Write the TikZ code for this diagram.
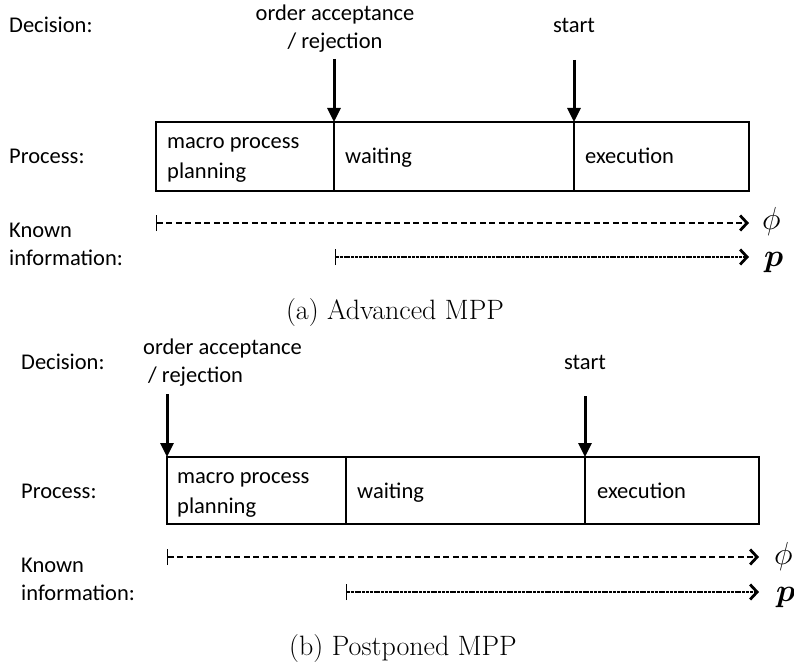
\documentclass[tikz,border=0pt]{standalone}
\usepackage{graphicx}
\usepackage{fontspec}
\usepackage{amsmath}
\newfontfamily\calib{Carlito}
\usetikzlibrary{arrows.meta}
\newcommand{\bigsym}[1]{\scalebox{1.28}{\fontsize{24.88}{30}\selectfont$#1$}}
\begin{document}
\begin{tikzpicture}[x=1pt,y=-1pt,
 lbl/.style={font=\calib\fontsize{22.5}{28}\selectfont, inner sep=0pt, anchor=base west},
 ctr/.style={font=\calib\fontsize{22.5}{28}\selectfont, inner sep=0pt, anchor=base},
 two/.style={font=\calib\fontsize{22.5}{28}\selectfont, inner sep=0pt, anchor=north},
 capt/.style={font=\rmfamily\fontsize{28}{34}\selectfont, inner sep=0pt, anchor=base},
 sym/.style={inner sep=0pt, anchor=base west},
 boxline/.style={line width=2pt},
 decarrow/.style={line width=3pt, -{Triangle[width=13pt,length=14pt]}},
 infophi/.style={line width=2.2pt, dash pattern=on 6pt off 3.5pt,
   {Bar[width=16pt,line width=1.2pt]}-{Straight Barb[length=7pt,width=15pt,line width=2.8pt]}},
 infop/.style={line width=2.2pt, dash pattern=on 3pt off 0.8pt,
   {Bar[width=16pt,line width=1.2pt]}-{Straight Barb[length=7pt,width=15pt,line width=2.8pt]}},
]
\path[use as bounding box] (0,0) rectangle (794,666);

% ---------- panel (a) ----------
\node[lbl] (decA) at (9,33) {Decision:};
\node[two, align=center] (oaA) at (335,5) {order acceptance\\/ rejection};
\node[ctr] (stA) at (574,33) {start};
\node[lbl] (procA) at (9,163) {Process:};
\node[lbl] (mppA1) at (167,148) {macro process};
\node[lbl] (mppA2) at (167,178) {planning};
\node[lbl] (waitA) at (345,163) {waiting};
\node[lbl] (execA) at (585,163) {execution};
\node[lbl] (knA) at (9,237) {Known};
\node[lbl] (infA) at (9,265) {information:};
\node[sym] (phiA) at (762,229) {\bigsym{\phi}};
\node[sym] (pA) at (764,266) {\bigsym{\boldsymbol{p}}};
\node[capt] (capA) at (395,319) {(a) Advanced MPP};

\draw[boxline] (156,122) rectangle (749,191);
\coordinate (a1t) at (334,122); \coordinate (a1b) at (334,191);
\coordinate (a2t) at (574,122); \coordinate (a2b) at (574,191);
\draw[boxline] (a1t) -- (a1b);
\draw[boxline] (a2t) -- (a2b);
\coordinate (a1s) at (334,59);
\coordinate (a2s) at (574,60);
\draw[decarrow] (a1s) -- (a1t);
\draw[decarrow] (a2s) -- (a2t);
\coordinate (phiAs) at (156,223); \coordinate (phiAe) at (749,223);
\coordinate (pAs) at (335,257); \coordinate (pAe) at (749,257);
\draw[infophi] (phiAs) -- (phiAe);
\draw[infop] (pAs) -- (pAe);

% ---------- panel (b) ----------
\node[lbl] (decB) at (21,369) {Decision:};
\node[two, align=left, anchor=north west] (oaB) at (143,339) {order acceptance\\\hspace*{5pt}/ rejection};
\node[ctr] (stB) at (585,369) {start};
\node[lbl] (procB) at (21,498) {Process:};
\node[lbl] (mppB1) at (177,483) {macro process};
\node[lbl] (mppB2) at (177,513) {planning};
\node[lbl] (waitB) at (357,498) {waiting};
\node[lbl] (execB) at (597,498) {execution};
\node[lbl] (knB) at (21,572) {Known};
\node[lbl] (infB) at (21,600) {information:};
\node[sym] (phiB) at (774,564) {\bigsym{\phi}};
\node[sym] (pB) at (776,601) {\bigsym{\boldsymbol{p}}};
\node[capt] (capB) at (403,655) {(b) Postponed MPP};

\draw[boxline] (167,457) rectangle (759,524);
\coordinate (b1t) at (346,457); \coordinate (b1b) at (346,524);
\coordinate (b2t) at (585,457); \coordinate (b2b) at (585,524);
\draw[boxline] (b1t) -- (b1b);
\draw[boxline] (b2t) -- (b2b);
\coordinate (b0t) at (167,457);
\coordinate (b0s) at (167,394);
\coordinate (b2s) at (585,396);
\draw[decarrow] (b0s) -- (b0t);
\draw[decarrow] (b2s) -- (b2t);
\coordinate (phiBs) at (167,557); \coordinate (phiBe) at (759,557);
\coordinate (pBs) at (346,592); \coordinate (pBe) at (759,592);
\draw[infophi] (phiBs) -- (phiBe);
\draw[infop] (pBs) -- (pBe);
\end{tikzpicture}
\end{document}
